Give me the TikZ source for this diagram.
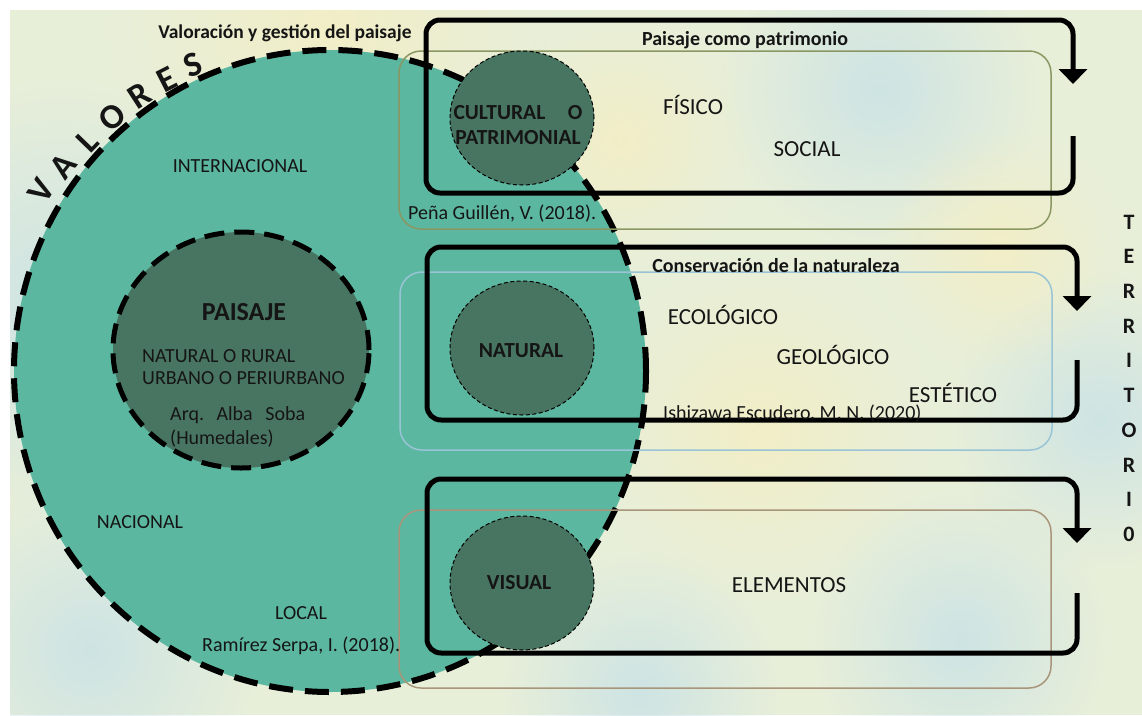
\documentclass[tikz,border=0pt]{standalone}
\usepackage{fontspec}
\setmainfont{Carlito}
\usetikzlibrary{shapes.geometric,arrows.meta,fadings}
\definecolor{bgbase}{HTML}{E8EFD9}
\definecolor{bgblue}{HTML}{C9E2E6}
\definecolor{bgyel}{HTML}{F4EEC4}
\definecolor{tealA}{HTML}{5CB7A0}
\definecolor{darkG}{HTML}{487562}
\definecolor{oliveL}{HTML}{8A9763}
\definecolor{blueL}{HTML}{98C4D6}
\definecolor{brownL}{HTML}{A8957A}
\definecolor{ink}{HTML}{151515}
\tikzfading[name=softblob, inner color=transparent!0, outer color=transparent!100]
\begin{document}
\begin{tikzpicture}[x=1pt,y=-1pt,
  txt/.style={inner sep=0pt, text=ink, font=\fontsize{20}{24}\selectfont},
  txtr/.style={txt, font=\fontsize{23}{27}\selectfont},
  head/.style={txt, font=\fontsize{20}{24}\selectfont\bfseries},
  lab/.style={txt, font=\fontsize{21.5}{25}\selectfont\bfseries},
  terr/.style={txt, font=\fontsize{22}{26}\selectfont\bfseries},
  val/.style={txt, font=\fontsize{35}{38}\selectfont\bfseries},
  thinbox/.style={draw=#1, line width=1.5pt, rounded corners=22pt, minimum width=652pt, minimum height=178pt, inner sep=0pt},
  loopline/.style={draw=black, line width=5pt, rounded corners=14pt, -{Triangle[width=28pt,length=15pt]}},
  smallc/.style={ellipse, draw=black, line width=1pt, dash pattern=on 4pt off 2.5pt, fill=darkG, minimum width=144pt, minimum height=134pt, inner sep=0pt}
]
\useasboundingbox (0,0) rectangle (1142,715);
\fill[white] (0,0) rectangle (1142,715);
\fill[bgbase] (10,10) rectangle (1142,715);
\begin{scope}
  \clip (10,10) rectangle (1142,715);
  \foreach \x/\y/\r/\c in {60/300/220/bgblue, 90/650/170/bgblue, 640/690/140/bgblue, 880/90/160/bgblue, 1100/420/150/bgblue, 960/640/150/bgblue, 330/20/220/bgyel, 760/430/170/bgyel, 620/140/130/bgyel, 1000/250/120/bgyel}
    \fill[\c, path fading=softblob, opacity=.85] (\x,\y) circle (\r);
\end{scope}

% big ellipse of values
\node[ellipse, draw=black, line width=6pt, dash pattern=on 24pt off 12pt, fill=tealA,
      minimum width=632pt, minimum height=642pt, inner sep=0pt] (big) at (330,371) {};
% paisaje circle
\node[ellipse, draw=black, line width=5pt, dash pattern=on 20pt off 10pt, fill=darkG,
      minimum width=256pt, minimum height=236pt, inner sep=0pt] (pais) at (241,350) {};

% thin coloured boxes
\node[thinbox=oliveL] (boxA) at (725,140) {};
\node[thinbox=blueL] (boxB) at (726,361) {};
\node[thinbox=brownL] (boxC) at (725,599) {};

% black loops with arrows
\coordinate (l1s) at (1073,136); \coordinate (l1e) at (1073,84);
\coordinate (l2s) at (1077,360); \coordinate (l2e) at (1077,311);
\coordinate (l3s) at (1077,593); \coordinate (l3e) at (1077,543);
\draw[loopline] (l1s) -- (1073,193) -- (426,193) -- (426,20) -- (1073,20) -- (l1e);
\draw[loopline] (l2s) -- (1077,420) -- (427,420) -- (427,247) -- (1077,247) -- (l2e);
\draw[loopline] (l3s) -- (1077,653) -- (427,653) -- (427,479) -- (1077,479) -- (l3e);

% small circles
\node[smallc] (cult) at (522,118) {};
\node[smallc] (nat) at (522,348) {};
\node[smallc] (vis) at (522,583) {};

% texts
\node[head, font=\fontsize{19.5}{23}\selectfont\bfseries, anchor=base] (title) at (285,38) {Valoración y gestión del paisaje};
\node[head, anchor=base] (hpat) at (745,45) {Paisaje como patrimonio};
\node[head, anchor=base] (hcon) at (776,272) {Conservación de la naturaleza};

\node[lab, anchor=base] (cul1) at (518,119) {\makebox[129pt]{CULTURAL\hfill O}};
\node[lab, anchor=base] (cul2) at (518,144) {PATRIMONIAL};
\node[lab, anchor=base] (natt) at (521,357) {NATURAL};
\node[lab, anchor=base] (vist) at (519,589) {VISUAL};

\node[txtr, anchor=base] (fis) at (693,114) {FÍSICO};
\node[txtr, anchor=base] (soc) at (807,156) {SOCIAL};
\node[txtr, anchor=base] (eco) at (723,324) {ECOLÓGICO};
\node[txtr, anchor=base] (geo) at (833,364) {GEOLÓGICO};
\node[txtr, anchor=base] (est) at (953,402) {ESTÉTICO};
\node[txtr, anchor=base] (ele) at (789,592) {ELEMENTOS};

\node[txt, anchor=base west] (pena) at (408,219) {Peña Guillén, V. (2018).};
\node[txt, anchor=base west] (ishi) at (663,419) {Ishizawa Escudero, M. N. (2020)};
\node[txt, anchor=base west] (rami) at (202,651) {Ramírez Serpa, I. (2018).};

\node[txt, anchor=base] (inter) at (240,172) {INTERNACIONAL};
\node[txt, anchor=base] (nac) at (140,528) {NACIONAL};
\node[txt, anchor=base] (loc) at (301,619) {LOCAL};

\node[txt, font=\fontsize{26}{30}\selectfont\bfseries, anchor=base] (paist) at (244,320) {PAISAJE};
\node[txt, anchor=base west] (p1) at (142,362) {NATURAL O RURAL};
\node[txt, anchor=base west] (p2) at (142,384) {URBANO O PERIURBANO};
\node[txt, anchor=base west] (p3) at (170,420) {\makebox[135pt]{Arq.\hfill Alba\hfill Soba}};
\node[txt, anchor=base west] (p4) at (170,444) {(Humedales)};

\foreach \l [count=\i] in {T,E,R,R,I,T,O,R,I,0}
  \node[terr] (terr\i) at (1129,{222+34.7*(\i-1)}) {\l};

\foreach \l/\x/\y/\a [count=\i] in {V/41/191/58, A/63/166/52, L/87/141/46, O/112/117/40, R/140/96/33, E/167/80/27, S/193/65/22}
  \node[val, rotate=\a] (val\i) at (\x,\y) {\l};
\end{tikzpicture}
\end{document}
